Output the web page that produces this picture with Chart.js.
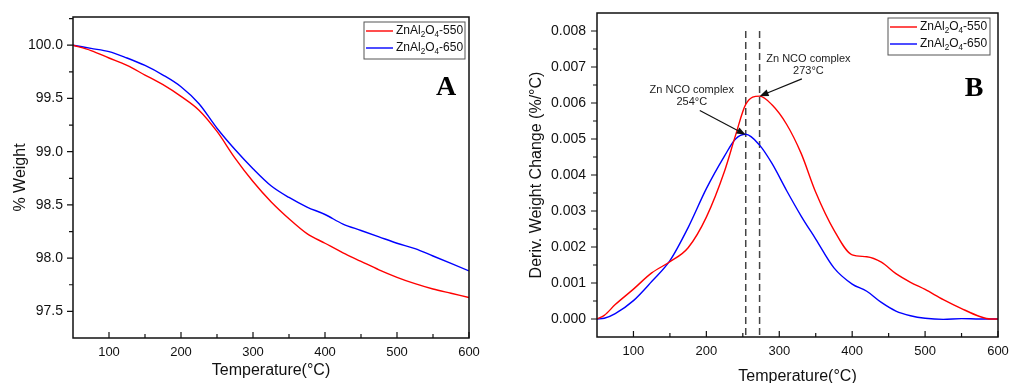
<!DOCTYPE html>
<html>
<head>
<meta charset="utf-8">
<script src="https://cdn.jsdelivr.net/npm/chart.js@4.4.0/dist/chart.umd.min.js"></script>
<style>
  body { margin: 0; background: #fff; width: 1011px; height: 383px; overflow: hidden; position: relative; }
  canvas { position: absolute; top: 0; }
  #chartA { left: 0; }
  #chartB { left: 505px; }
</style>
</head>
<body>
<canvas id="chartA" width="500" height="383"></canvas>
<canvas id="chartB" width="506" height="390"></canvas>
<script>
'use strict';

// ---- data ----
const seriesNames = ['ZnAl2O4-550', 'ZnAl2O4-650'];

// panel A : TGA weight loss
const tempsA = [50, 75, 100, 125, 150, 175, 200, 225, 250, 275, 300, 325, 350, 375, 400, 425, 450, 475, 500, 525, 550, 575, 600];
const weight550 = [100.00, 99.95, 99.88, 99.81, 99.72, 99.63, 99.52, 99.39, 99.19, 98.94, 98.72, 98.53, 98.37, 98.23, 98.14, 98.05, 97.97, 97.89, 97.82, 97.76, 97.71, 97.67, 97.63];
const weight650 = [100.00, 99.97, 99.94, 99.88, 99.81, 99.72, 99.61, 99.45, 99.22, 99.02, 98.84, 98.68, 98.57, 98.48, 98.41, 98.32, 98.26, 98.20, 98.14, 98.09, 98.02, 97.95, 97.88];

// panel B : derivative weight
const tempsB = [50, 60, 75, 100, 125, 150, 175, 200, 225, 240, 254, 273, 290, 310, 330, 350, 375, 400, 420, 440, 460, 480, 500, 525, 550, 575, 590, 600];
const deriv550 = [0, 0.00010, 0.00040, 0.00083, 0.00128, 0.00159, 0.00198, 0.00283, 0.00411, 0.00510, 0.00596, 0.00619, 0.00595, 0.00541, 0.00460, 0.00352, 0.00247, 0.00178, 0.00173, 0.00158, 0.00126, 0.00102, 0.00082, 0.00054, 0.00029, 0.00007, 0, 0];
const deriv650 = [0, 0.00002, 0.00015, 0.00051, 0.00104, 0.00162, 0.00254, 0.00362, 0.00453, 0.00500, 0.00513, 0.00483, 0.00432, 0.00357, 0.00286, 0.00222, 0.00142, 0.00097, 0.00077, 0.00046, 0.00022, 0.00009, 0.00002, -0.00001, 0.00001, 0, 0, 0];

const peakTemps = [254, 273];
const peakLabels = ['254°C', '273°C'];

const xTicks = [100, 200, 300, 400, 500, 600];
const yTicksA = [97.5, 98.0, 98.5, 99.0, 99.5, 100.0];
const yTicksB = [0, 0.001, 0.002, 0.003, 0.004, 0.005, 0.006, 0.007, 0.008];

const FONT = '"Liberation Sans", Arial, sans-serif';

function pts(xs, ys) {
  return xs.map((x, i) => ({ x: x, y: ys[i] }));
}

// draws text where a digit following a letter becomes a subscript
function drawChem(ctx, text, x, y, size) {
  let runs = [];
  for (let i = 0; i < text.length; i++) {
    let sub = /\d/.test(text[i]) && i > 0 && /[A-Za-z]/.test(text[i - 1]);
    if (runs.length && runs[runs.length - 1].sub === sub) runs[runs.length - 1].t += text[i];
    else runs.push({ t: text[i], sub: sub });
  }
  let cx = x;
  runs.forEach(r => {
    let fs = r.sub ? size * 0.68 : size;
    ctx.font = fs + 'px ' + FONT;
    ctx.fillText(r.t, cx, r.sub ? y + size * 0.28 : y);
    cx += ctx.measureText(r.t).width;
  });
}

const panelDeco = {
  id: 'panelDeco',
  afterDraw(chart, args, o) {
    const ctx = chart.ctx, a = chart.chartArea;
    const xs = chart.scales.x, ys = chart.scales.y;
    ctx.save();

    // frame
    ctx.strokeStyle = '#111';
    ctx.lineWidth = 1.5;
    ctx.strokeRect(a.left, a.top, a.right - a.left, a.bottom - a.top);

    // ticks: bottom inward, left outward, with minors halfway
    ctx.lineWidth = 1.2;
    ctx.beginPath();
    xTicks.forEach(v => {
      let px = xs.getPixelForValue(v);
      ctx.moveTo(px, a.bottom); ctx.lineTo(px, a.bottom - 6);
      let m = v - (xTicks[1] - xTicks[0]) / 2;
      if (m > xs.min) {
        let pm = xs.getPixelForValue(m);
        ctx.moveTo(pm, a.bottom); ctx.lineTo(pm, a.bottom - 4);
      }
    });
    o.yTicks.forEach(v => {
      let py = ys.getPixelForValue(v);
      ctx.moveTo(a.left, py); ctx.lineTo(a.left - 6, py);
      let m = v + (o.yTicks[1] - o.yTicks[0]) / 2;
      if (m < ys.max) {
        let pm = ys.getPixelForValue(m);
        ctx.moveTo(a.left, pm); ctx.lineTo(a.left - 4, pm);
      }
    });
    ctx.stroke();

    // legend box
    const lg = o.legend;
    const bx = a.right - lg.right - lg.w, by = a.top + lg.top;
    ctx.lineWidth = 1;
    ctx.strokeStyle = '#555';
    ctx.strokeRect(bx, by, lg.w, lg.h);
    chart.data.datasets.slice(0, 2).forEach((ds, i) => {
      let ly = by + 9 + i * 17;
      ctx.strokeStyle = ds.borderColor;
      ctx.lineWidth = 1.4;
      ctx.beginPath();
      ctx.moveTo(bx + 2, ly); ctx.lineTo(bx + 29, ly);
      ctx.stroke();
      ctx.fillStyle = '#111';
      ctx.textBaseline = 'middle';
      ctx.textAlign = 'left';
      drawChem(ctx, seriesNames[i], bx + 32, ly, 12);
    });

    // panel letter
    ctx.fillStyle = '#000';
    ctx.font = 'bold 28px "Liberation Serif", "Times New Roman", serif';
    ctx.textAlign = 'center';
    ctx.textBaseline = 'alphabetic';
    ctx.fillText(o.letter, a.right - o.letterRight, a.top + o.letterTop);

    // peak notes with arrows
    (o.notes || []).forEach(n => {
      ctx.fillStyle = '#222';
      ctx.font = '11px ' + FONT;
      ctx.textAlign = 'center';
      ctx.textBaseline = 'middle';
      ctx.fillText('Zn NCO complex', xs.getPixelForValue(n.tx), ys.getPixelForValue(n.ty1));
      ctx.fillText(n.label, xs.getPixelForValue(n.tx), ys.getPixelForValue(n.ty2));
      let x0 = xs.getPixelForValue(n.from[0]), y0 = ys.getPixelForValue(n.from[1]);
      let x1 = xs.getPixelForValue(n.to[0]), y1 = ys.getPixelForValue(n.to[1]);
      let ang = Math.atan2(y1 - y0, x1 - x0);
      ctx.strokeStyle = '#111';
      ctx.lineWidth = 1.2;
      ctx.beginPath();
      ctx.moveTo(x0, y0);
      ctx.lineTo(x1 - 7 * Math.cos(ang), y1 - 7 * Math.sin(ang));
      ctx.stroke();
      ctx.fillStyle = '#111';
      ctx.beginPath();
      ctx.moveTo(x1, y1);
      ctx.lineTo(x1 - 9 * Math.cos(ang) + 3.5 * Math.sin(ang), y1 - 9 * Math.sin(ang) - 3.5 * Math.cos(ang));
      ctx.lineTo(x1 - 9 * Math.cos(ang) - 3.5 * Math.sin(ang), y1 - 9 * Math.sin(ang) + 3.5 * Math.cos(ang));
      ctx.closePath();
      ctx.fill();
    });

    ctx.restore();
  }
};

function buildChart(id, c) {
  return new Chart(document.getElementById(id), {
    type: 'line',
    data: { datasets: c.datasets },
    options: {
      responsive: false,
      animation: false,
      devicePixelRatio: 1,
      layout: { padding: c.padding },
      elements: { point: { radius: 0 } },
      plugins: {
        legend: { display: false },
        tooltip: { enabled: false },
        panelDeco: c.deco
      },
      scales: {
        x: {
          type: 'linear', min: 50, max: 600,
          grid: { display: false, drawTicks: false }, border: { display: false },
          afterBuildTicks: s => { s.ticks = xTicks.map(v => ({ value: v })); },
          afterFit: s => { s.height = c.xHeight; s.paddingLeft = 0; s.paddingRight = 0; },
          ticks: { padding: 7, color: '#111', autoSkip: false, maxRotation: 0, font: { family: FONT, size: 13 } },
          title: { display: true, text: 'Temperature(°C)', color: '#111', padding: { top: 0, bottom: c.xTitlePad }, font: { family: FONT, size: 16 } }
        },
        y: {
          min: c.yMin, max: c.yMax,
          grid: { display: false, drawTicks: false }, border: { display: false },
          afterBuildTicks: s => { s.ticks = c.deco.yTicks.map(v => ({ value: v })); },
          afterFit: s => { s.width = c.yWidth; s.paddingTop = 0; s.paddingBottom = 0; },
          ticks: { padding: c.yTickPad, color: '#111', autoSkip: false, font: { family: FONT, size: 14 }, callback: v => v.toFixed(c.decimals) },
          title: { display: true, text: c.yTitle, color: '#111', padding: { top: c.yTitlePad, bottom: 0 }, font: { family: FONT, size: 16 } }
        }
      }
    },
    plugins: [panelDeco]
  });
}

const curveStyle = { borderWidth: 1.4, fill: false, cubicInterpolationMode: 'monotone', pointRadius: 0 };

buildChart('chartA', {
  datasets: [
    Object.assign({ data: pts(tempsA, weight550), borderColor: '#ff0000' }, curveStyle),
    Object.assign({ data: pts(tempsA, weight650), borderColor: '#0000ff' }, curveStyle)
  ],
  padding: { left: 0, top: 17, right: 31, bottom: 0 },
  xHeight: 45, xTitlePad: 3,
  yWidth: 73, yTickPad: 10, yTitlePad: 11,
  yMin: 97.25, yMax: 100.265, decimals: 1,
  yTitle: '% Weight',
  deco: {
    yTicks: yTicksA, letter: 'A', letterRight: 23, letterTop: 78,
    legend: { right: 4, top: 5, w: 101, h: 37 }
  }
});

buildChart('chartB', {
  datasets: [
    Object.assign({ data: pts(tempsB, deriv550), borderColor: '#ff0000' }, curveStyle),
    Object.assign({ data: pts(tempsB, deriv650), borderColor: '#0000ff' }, curveStyle),
    { data: [{ x: peakTemps[0], y: 0.008 }, { x: peakTemps[0], y: -0.0005 }], borderColor: '#444', borderWidth: 1.5, borderDash: [7, 4], pointRadius: 0, order: 5 },
    { data: [{ x: peakTemps[1], y: 0.008 }, { x: peakTemps[1], y: -0.0005 }], borderColor: '#444', borderWidth: 1.5, borderDash: [7, 4], pointRadius: 0, order: 5 }
  ],
  padding: { left: 0, top: 13, right: 13, bottom: 0 },
  xHeight: 53, xTitlePad: 4,
  yWidth: 92, yTickPad: 11, yTitlePad: 22,
  yMin: -0.0005, yMax: 0.0085, decimals: 3,
  yTitle: 'Deriv. Weight Change (%/°C)',
  deco: {
    yTicks: yTicksB, letter: 'B', letterRight: 24, letterTop: 83,
    legend: { right: 8, top: 5, w: 102, h: 37 },
    notes: [
      { label: peakLabels[0], tx: 180, ty1: 0.00635, ty2: 0.00602, from: [191, 0.00579], to: [peakTemps[0], 0.00512] },
      { label: peakLabels[1], tx: 340, ty1: 0.00723, ty2: 0.00689, from: [331, 0.00667], to: [peakTemps[1], 0.00619] }
    ]
  }
});
</script>
</body>
</html>
